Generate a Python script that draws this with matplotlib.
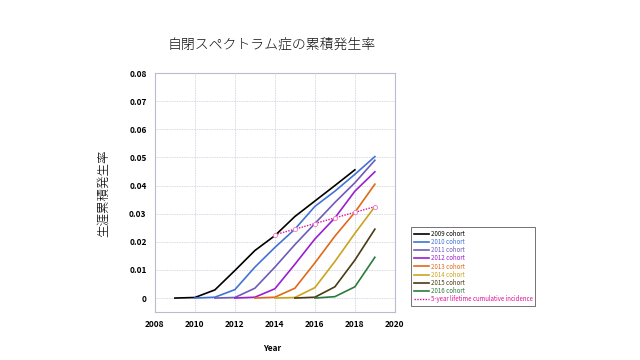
import matplotlib
matplotlib.use("Agg")
import matplotlib.pyplot as plt

plt.rcParams['font.family'] = ['Noto Sans CJK JP', 'DejaVu Sans']

years = list(range(2009, 2020))
cohort_labels = ["2009 cohort", "2010 cohort", "2011 cohort", "2012 cohort",
                 "2013 cohort", "2014 cohort", "2015 cohort", "2016 cohort"]
cohort_start = [2009, 2010, 2011, 2012, 2013, 2014, 2015, 2016]
c2009 = [0, 0.0002, 0.0029, 0.0098, 0.0169, 0.0222, 0.0290, 0.0345, 0.0400, 0.0456]
c2010 = [0, 0.0003, 0.0030, 0.0110, 0.0180, 0.0245, 0.0326, 0.0380, 0.0440, 0.0503]
c2011 = [0, 0.0002, 0.0035, 0.0110, 0.0190, 0.0265, 0.0340, 0.0410, 0.0490]
c2012 = [0, 0.0003, 0.0033, 0.0120, 0.0210, 0.0285, 0.0380, 0.0449]
c2013 = [0, 0.0003, 0.0035, 0.0125, 0.0220, 0.0305, 0.0405]
c2014 = [0, 0.0002, 0.0037, 0.0130, 0.0230, 0.0325]
c2015 = [0, 0.0003, 0.0040, 0.0135, 0.0245]
c2016 = [0, 0.0005, 0.0040, 0.0145]
cohorts = [c2009, c2010, c2011, c2012, c2013, c2014, c2015, c2016]
colors = ["#000000", "#3F73D6", "#6E5BB8", "#9A1FD0", "#E0691A", "#C9A41E", "#4A3A14", "#2C7A3C"]

five_year_years = [2014, 2015, 2016, 2017, 2018, 2019]
five_year_vals = [0.0225, 0.0245, 0.0265, 0.0285, 0.0305, 0.0325]
five_label = "5-year lifetime cumulative incidence"

fig = plt.figure(figsize=(6.4, 3.6), dpi=100)
ax = fig.add_axes([0.242, 0.133, 0.375, 0.664])

handles = []
for start, vals, col, lab in zip(cohort_start, cohorts, colors, cohort_labels):
    xs = list(range(start, start + len(vals)))
    h, = ax.plot(xs, vals, color=col, lw=1.2, label=lab)
    handles.append(h)
h5, = ax.plot(five_year_years, five_year_vals, color="#E0109A", lw=1.0, ls=(0, (1, 1)),
              marker='o', ms=3, mfc='white', mec="#F07AC0", mew=0.6, label=five_label)
handles.append(h5)

ax.set_xlim(2008, 2020)
ax.set_ylim(-0.005, 0.08)
ax.set_xticks(range(2008, 2021, 2))
ax.set_yticks([0, 0.01, 0.02, 0.03, 0.04, 0.05, 0.06, 0.07, 0.08])
ax.set_yticklabels(["0", "0.01", "0.02", "0.03", "0.04", "0.05", "0.06", "0.07", "0.08"])
ax.grid(True, color="#C8CCD8", ls=(0, (1, 1)), lw=0.6)
ax.set_axisbelow(True)
for s in ax.spines.values():
    s.set_color("#B8BCCC")
    s.set_linewidth(0.8)
ax.tick_params(length=0, labelsize=6, pad=6)
for t in ax.get_xticklabels() + ax.get_yticklabels():
    t.set_fontweight('bold')

fig.text(0.424, 0.875, "自閉スペクトラム症の累積発生率", ha='center', va='center',
         fontsize=10, fontweight='light', color='#111111')
fig.text(0.162, 0.464, "生涯累積発生率", ha='center', va='center', rotation=90,
         fontsize=9, fontweight='light')
fig.text(0.425, 0.033, "Year", ha='center', va='center', fontsize=6, fontweight='bold')

leg = fig.legend(handles=handles, loc='lower left', bbox_to_anchor=(0.638, 0.142),
                 fontsize=4.4, frameon=True, fancybox=False, edgecolor="#333333",
                 handlelength=2.4, handletextpad=0.3, labelspacing=0.02, borderpad=0.45,
                 markerscale=0)
leg.get_frame().set_linewidth(0.6)
for txt, col in zip(leg.get_texts(), colors + ["#E0109A"]):
    txt.set_color(col)

fig.savefig("out.png", dpi=100)
